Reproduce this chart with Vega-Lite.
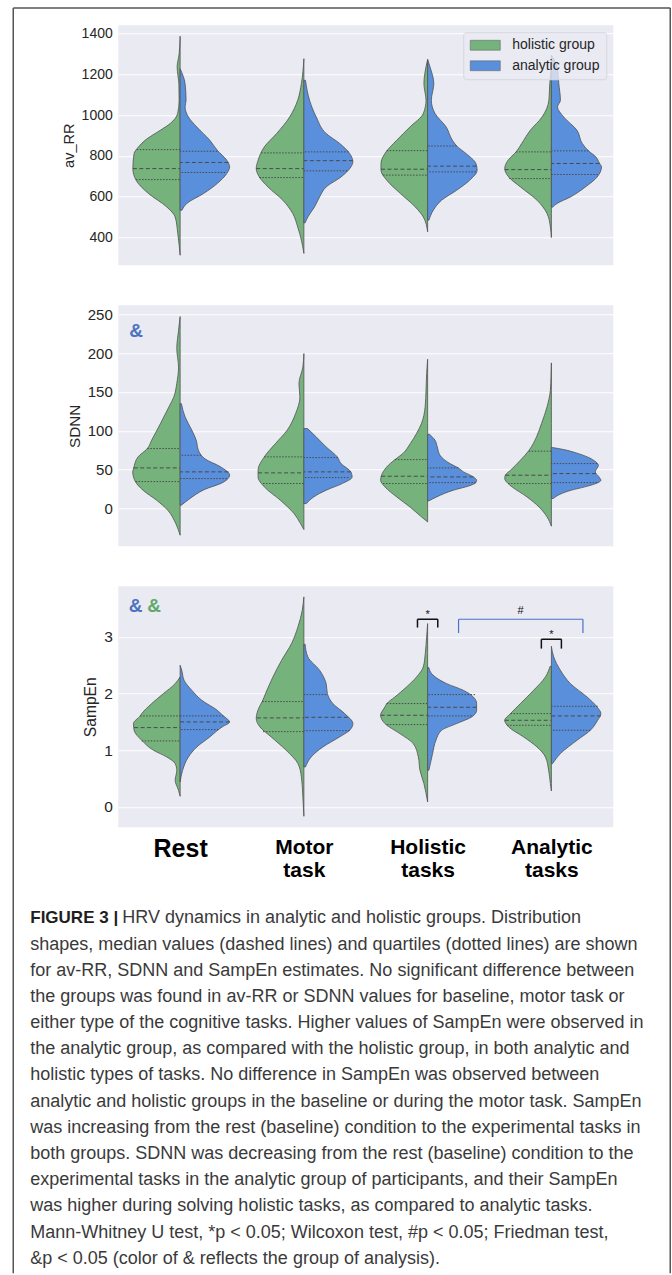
{
"$schema": "https://vega.github.io/schema/vega-lite/v6.json",
"padding": {"left": 12.25, "top": 7.25, "right": 0, "bottom": 0},
"bounds": "flush",
"spacing": 40,
"background": "white",
"config": {
  "font": "Liberation Sans",
  "view": {"stroke": null},
  "axis": {"labelFont": "Liberation Sans", "titleFont": "Liberation Sans", "domain": false, "ticks": false, "labelColor": "#262626", "titleColor": "#262626", "titleFontWeight": "normal", "gridColor": "#ffffff", "gridWidth": 1, "labelPadding": 6, "titlePadding": 5},
  "axisX": {"grid": false},
  "legend": {"labelFont": "Liberation Sans"},
  "text": {"font": "Liberation Sans"}
},
"resolve": {"scale": {"color": "independent", "strokeDash": "independent"}, "legend": {"color": "independent", "strokeDash": "independent"}},
"datasets": {
"violins": [
{"p":"av_RR","t":"Rest","g":"holistic group","v":1387,"w":0},
{"p":"av_RR","t":"Rest","g":"holistic group","v":1300,"w":0.008},
{"p":"av_RR","t":"Rest","g":"holistic group","v":1237,"w":0.024},
{"p":"av_RR","t":"Rest","g":"holistic group","v":1150,"w":0.01},
{"p":"av_RR","t":"Rest","g":"holistic group","v":1073,"w":0.008},
{"p":"av_RR","t":"Rest","g":"holistic group","v":1008,"w":0.02},
{"p":"av_RR","t":"Rest","g":"holistic group","v":959,"w":0.08},
{"p":"av_RR","t":"Rest","g":"holistic group","v":926,"w":0.16},
{"p":"av_RR","t":"Rest","g":"holistic group","v":877,"w":0.283},
{"p":"av_RR","t":"Rest","g":"holistic group","v":844,"w":0.337},
{"p":"av_RR","t":"Rest","g":"holistic group","v":812,"w":0.372},
{"p":"av_RR","t":"Rest","g":"holistic group","v":738,"w":0.382},
{"p":"av_RR","t":"Rest","g":"holistic group","v":681,"w":0.356},
{"p":"av_RR","t":"Rest","g":"holistic group","v":616,"w":0.256},
{"p":"av_RR","t":"Rest","g":"holistic group","v":550,"w":0.108},
{"p":"av_RR","t":"Rest","g":"holistic group","v":501,"w":0.04},
{"p":"av_RR","t":"Rest","g":"holistic group","v":420,"w":0.019},
{"p":"av_RR","t":"Rest","g":"holistic group","v":313,"w":0},
{"p":"av_RR","t":"Rest","g":"analytic group","v":1228,"w":0},
{"p":"av_RR","t":"Rest","g":"analytic group","v":1155,"w":0.04},
{"p":"av_RR","t":"Rest","g":"analytic group","v":1073,"w":0.048},
{"p":"av_RR","t":"Rest","g":"analytic group","v":1041,"w":0.04},
{"p":"av_RR","t":"Rest","g":"analytic group","v":991,"w":0.067},
{"p":"av_RR","t":"Rest","g":"analytic group","v":942,"w":0.135},
{"p":"av_RR","t":"Rest","g":"analytic group","v":877,"w":0.24},
{"p":"av_RR","t":"Rest","g":"analytic group","v":828,"w":0.3},
{"p":"av_RR","t":"Rest","g":"analytic group","v":779,"w":0.377},
{"p":"av_RR","t":"Rest","g":"analytic group","v":746,"w":0.4},
{"p":"av_RR","t":"Rest","g":"analytic group","v":714,"w":0.377},
{"p":"av_RR","t":"Rest","g":"analytic group","v":665,"w":0.3},
{"p":"av_RR","t":"Rest","g":"analytic group","v":616,"w":0.19},
{"p":"av_RR","t":"Rest","g":"analytic group","v":567,"w":0.054},
{"p":"av_RR","t":"Rest","g":"analytic group","v":534,"w":0.015},
{"p":"av_RR","t":"Motor task","g":"holistic group","v":1277,"w":0},
{"p":"av_RR","t":"Motor task","g":"holistic group","v":1155,"w":0.02},
{"p":"av_RR","t":"Motor task","g":"holistic group","v":1073,"w":0.05},
{"p":"av_RR","t":"Motor task","g":"holistic group","v":991,"w":0.115},
{"p":"av_RR","t":"Motor task","g":"holistic group","v":910,"w":0.22},
{"p":"av_RR","t":"Motor task","g":"holistic group","v":844,"w":0.32},
{"p":"av_RR","t":"Motor task","g":"holistic group","v":779,"w":0.37},
{"p":"av_RR","t":"Motor task","g":"holistic group","v":738,"w":0.385},
{"p":"av_RR","t":"Motor task","g":"holistic group","v":697,"w":0.36},
{"p":"av_RR","t":"Motor task","g":"holistic group","v":648,"w":0.29},
{"p":"av_RR","t":"Motor task","g":"holistic group","v":583,"w":0.17},
{"p":"av_RR","t":"Motor task","g":"holistic group","v":518,"w":0.09},
{"p":"av_RR","t":"Motor task","g":"holistic group","v":452,"w":0.05},
{"p":"av_RR","t":"Motor task","g":"holistic group","v":387,"w":0.02},
{"p":"av_RR","t":"Motor task","g":"holistic group","v":322,"w":0},
{"p":"av_RR","t":"Motor task","g":"analytic group","v":1171,"w":0.013},
{"p":"av_RR","t":"Motor task","g":"analytic group","v":1073,"w":0.046},
{"p":"av_RR","t":"Motor task","g":"analytic group","v":991,"w":0.1},
{"p":"av_RR","t":"Motor task","g":"analytic group","v":910,"w":0.18},
{"p":"av_RR","t":"Motor task","g":"analytic group","v":861,"w":0.29},
{"p":"av_RR","t":"Motor task","g":"analytic group","v":812,"w":0.37},
{"p":"av_RR","t":"Motor task","g":"analytic group","v":771,"w":0.396},
{"p":"av_RR","t":"Motor task","g":"analytic group","v":746,"w":0.38},
{"p":"av_RR","t":"Motor task","g":"analytic group","v":697,"w":0.3},
{"p":"av_RR","t":"Motor task","g":"analytic group","v":648,"w":0.18},
{"p":"av_RR","t":"Motor task","g":"analytic group","v":599,"w":0.127},
{"p":"av_RR","t":"Motor task","g":"analytic group","v":550,"w":0.086},
{"p":"av_RR","t":"Motor task","g":"analytic group","v":501,"w":0.032},
{"p":"av_RR","t":"Motor task","g":"analytic group","v":472,"w":0.01},
{"p":"av_RR","t":"Holistic tasks","g":"holistic group","v":1273,"w":0},
{"p":"av_RR","t":"Holistic tasks","g":"holistic group","v":1237,"w":0.013},
{"p":"av_RR","t":"Holistic tasks","g":"holistic group","v":1155,"w":0.03},
{"p":"av_RR","t":"Holistic tasks","g":"holistic group","v":1073,"w":0.013},
{"p":"av_RR","t":"Holistic tasks","g":"holistic group","v":1008,"w":0.035},
{"p":"av_RR","t":"Holistic tasks","g":"holistic group","v":942,"w":0.143},
{"p":"av_RR","t":"Holistic tasks","g":"holistic group","v":877,"w":0.25},
{"p":"av_RR","t":"Holistic tasks","g":"holistic group","v":812,"w":0.345},
{"p":"av_RR","t":"Holistic tasks","g":"holistic group","v":763,"w":0.377},
{"p":"av_RR","t":"Holistic tasks","g":"holistic group","v":730,"w":0.377},
{"p":"av_RR","t":"Holistic tasks","g":"holistic group","v":681,"w":0.33},
{"p":"av_RR","t":"Holistic tasks","g":"holistic group","v":616,"w":0.22},
{"p":"av_RR","t":"Holistic tasks","g":"holistic group","v":550,"w":0.1},
{"p":"av_RR","t":"Holistic tasks","g":"holistic group","v":501,"w":0.035},
{"p":"av_RR","t":"Holistic tasks","g":"holistic group","v":428,"w":0},
{"p":"av_RR","t":"Holistic tasks","g":"analytic group","v":1273,"w":0},
{"p":"av_RR","t":"Holistic tasks","g":"analytic group","v":1237,"w":0.019},
{"p":"av_RR","t":"Holistic tasks","g":"analytic group","v":1155,"w":0.05},
{"p":"av_RR","t":"Holistic tasks","g":"analytic group","v":1073,"w":0.03},
{"p":"av_RR","t":"Holistic tasks","g":"analytic group","v":1008,"w":0.06},
{"p":"av_RR","t":"Holistic tasks","g":"analytic group","v":942,"w":0.15},
{"p":"av_RR","t":"Holistic tasks","g":"analytic group","v":877,"w":0.2},
{"p":"av_RR","t":"Holistic tasks","g":"analytic group","v":849,"w":0.235},
{"p":"av_RR","t":"Holistic tasks","g":"analytic group","v":812,"w":0.31},
{"p":"av_RR","t":"Holistic tasks","g":"analytic group","v":763,"w":0.39},
{"p":"av_RR","t":"Holistic tasks","g":"analytic group","v":730,"w":0.4},
{"p":"av_RR","t":"Holistic tasks","g":"analytic group","v":681,"w":0.34},
{"p":"av_RR","t":"Holistic tasks","g":"analytic group","v":632,"w":0.235},
{"p":"av_RR","t":"Holistic tasks","g":"analytic group","v":583,"w":0.113},
{"p":"av_RR","t":"Holistic tasks","g":"analytic group","v":534,"w":0.046},
{"p":"av_RR","t":"Holistic tasks","g":"analytic group","v":485,"w":0.01},
{"p":"av_RR","t":"Analytic tasks","g":"holistic group","v":1237,"w":0},
{"p":"av_RR","t":"Analytic tasks","g":"holistic group","v":1155,"w":0.013},
{"p":"av_RR","t":"Analytic tasks","g":"holistic group","v":1073,"w":0.02},
{"p":"av_RR","t":"Analytic tasks","g":"holistic group","v":991,"w":0.075},
{"p":"av_RR","t":"Analytic tasks","g":"holistic group","v":926,"w":0.17},
{"p":"av_RR","t":"Analytic tasks","g":"holistic group","v":861,"w":0.24},
{"p":"av_RR","t":"Analytic tasks","g":"holistic group","v":820,"w":0.285},
{"p":"av_RR","t":"Analytic tasks","g":"holistic group","v":779,"w":0.35},
{"p":"av_RR","t":"Analytic tasks","g":"holistic group","v":738,"w":0.377},
{"p":"av_RR","t":"Analytic tasks","g":"holistic group","v":697,"w":0.345},
{"p":"av_RR","t":"Analytic tasks","g":"holistic group","v":648,"w":0.25},
{"p":"av_RR","t":"Analytic tasks","g":"holistic group","v":583,"w":0.116},
{"p":"av_RR","t":"Analytic tasks","g":"holistic group","v":518,"w":0.035},
{"p":"av_RR","t":"Analytic tasks","g":"holistic group","v":452,"w":0.008},
{"p":"av_RR","t":"Analytic tasks","g":"holistic group","v":400,"w":0},
{"p":"av_RR","t":"Analytic tasks","g":"analytic group","v":1294,"w":0},
{"p":"av_RR","t":"Analytic tasks","g":"analytic group","v":1237,"w":0.046},
{"p":"av_RR","t":"Analytic tasks","g":"analytic group","v":1155,"w":0.06},
{"p":"av_RR","t":"Analytic tasks","g":"analytic group","v":1073,"w":0.073},
{"p":"av_RR","t":"Analytic tasks","g":"analytic group","v":1041,"w":0.05},
{"p":"av_RR","t":"Analytic tasks","g":"analytic group","v":991,"w":0.1},
{"p":"av_RR","t":"Analytic tasks","g":"analytic group","v":926,"w":0.207},
{"p":"av_RR","t":"Analytic tasks","g":"analytic group","v":861,"w":0.25},
{"p":"av_RR","t":"Analytic tasks","g":"analytic group","v":825,"w":0.3},
{"p":"av_RR","t":"Analytic tasks","g":"analytic group","v":795,"w":0.36},
{"p":"av_RR","t":"Analytic tasks","g":"analytic group","v":763,"w":0.39},
{"p":"av_RR","t":"Analytic tasks","g":"analytic group","v":746,"w":0.405},
{"p":"av_RR","t":"Analytic tasks","g":"analytic group","v":697,"w":0.37},
{"p":"av_RR","t":"Analytic tasks","g":"analytic group","v":648,"w":0.275},
{"p":"av_RR","t":"Analytic tasks","g":"analytic group","v":599,"w":0.154},
{"p":"av_RR","t":"Analytic tasks","g":"analytic group","v":567,"w":0.046},
{"p":"av_RR","t":"Analytic tasks","g":"analytic group","v":549,"w":0.01},
{"p":"SDNN","t":"Rest","g":"holistic group","v":247,"w":0},
{"p":"SDNN","t":"Rest","g":"holistic group","v":229,"w":0.013},
{"p":"SDNN","t":"Rest","g":"holistic group","v":206,"w":0.027},
{"p":"SDNN","t":"Rest","g":"holistic group","v":182,"w":0.013},
{"p":"SDNN","t":"Rest","g":"holistic group","v":161,"w":0.027},
{"p":"SDNN","t":"Rest","g":"holistic group","v":144,"w":0.05},
{"p":"SDNN","t":"Rest","g":"holistic group","v":131,"w":0.09},
{"p":"SDNN","t":"Rest","g":"holistic group","v":109,"w":0.16},
{"p":"SDNN","t":"Rest","g":"holistic group","v":88,"w":0.23},
{"p":"SDNN","t":"Rest","g":"holistic group","v":77.2,"w":0.265},
{"p":"SDNN","t":"Rest","g":"holistic group","v":66.5,"w":0.34},
{"p":"SDNN","t":"Rest","g":"holistic group","v":52.3,"w":0.375},
{"p":"SDNN","t":"Rest","g":"holistic group","v":47.2,"w":0.383},
{"p":"SDNN","t":"Rest","g":"holistic group","v":34.3,"w":0.36},
{"p":"SDNN","t":"Rest","g":"holistic group","v":23.6,"w":0.3},
{"p":"SDNN","t":"Rest","g":"holistic group","v":10.7,"w":0.19},
{"p":"SDNN","t":"Rest","g":"holistic group","v":-2.1,"w":0.1},
{"p":"SDNN","t":"Rest","g":"holistic group","v":-19.3,"w":0.035},
{"p":"SDNN","t":"Rest","g":"holistic group","v":-34.3,"w":0},
{"p":"SDNN","t":"Rest","g":"analytic group","v":135,"w":0.01},
{"p":"SDNN","t":"Rest","g":"analytic group","v":118,"w":0.04},
{"p":"SDNN","t":"Rest","g":"analytic group","v":101,"w":0.094},
{"p":"SDNN","t":"Rest","g":"analytic group","v":88,"w":0.13},
{"p":"SDNN","t":"Rest","g":"analytic group","v":75,"w":0.148},
{"p":"SDNN","t":"Rest","g":"analytic group","v":68.6,"w":0.17},
{"p":"SDNN","t":"Rest","g":"analytic group","v":64,"w":0.2},
{"p":"SDNN","t":"Rest","g":"analytic group","v":54,"w":0.323},
{"p":"SDNN","t":"Rest","g":"analytic group","v":43,"w":0.4},
{"p":"SDNN","t":"Rest","g":"analytic group","v":34,"w":0.35},
{"p":"SDNN","t":"Rest","g":"analytic group","v":24,"w":0.19},
{"p":"SDNN","t":"Rest","g":"analytic group","v":13,"w":0.08},
{"p":"SDNN","t":"Rest","g":"analytic group","v":4.3,"w":0.01},
{"p":"SDNN","t":"Motor task","g":"holistic group","v":199.4,"w":0},
{"p":"SDNN","t":"Motor task","g":"holistic group","v":182.2,"w":0.008},
{"p":"SDNN","t":"Motor task","g":"holistic group","v":160.8,"w":0.04},
{"p":"SDNN","t":"Motor task","g":"holistic group","v":143.6,"w":0.032},
{"p":"SDNN","t":"Motor task","g":"holistic group","v":122.2,"w":0.067},
{"p":"SDNN","t":"Motor task","g":"holistic group","v":100.8,"w":0.135},
{"p":"SDNN","t":"Motor task","g":"holistic group","v":83.6,"w":0.23},
{"p":"SDNN","t":"Motor task","g":"holistic group","v":66.5,"w":0.32},
{"p":"SDNN","t":"Motor task","g":"holistic group","v":49.3,"w":0.37},
{"p":"SDNN","t":"Motor task","g":"holistic group","v":40.7,"w":0.37},
{"p":"SDNN","t":"Motor task","g":"holistic group","v":27.9,"w":0.32},
{"p":"SDNN","t":"Motor task","g":"holistic group","v":10.7,"w":0.19},
{"p":"SDNN","t":"Motor task","g":"holistic group","v":-6.4,"w":0.08},
{"p":"SDNN","t":"Motor task","g":"holistic group","v":-19.3,"w":0.027},
{"p":"SDNN","t":"Motor task","g":"holistic group","v":-27,"w":0},
{"p":"SDNN","t":"Motor task","g":"analytic group","v":102.9,"w":0.03},
{"p":"SDNN","t":"Motor task","g":"analytic group","v":92.2,"w":0.1},
{"p":"SDNN","t":"Motor task","g":"analytic group","v":79.3,"w":0.18},
{"p":"SDNN","t":"Motor task","g":"analytic group","v":66.5,"w":0.27},
{"p":"SDNN","t":"Motor task","g":"analytic group","v":57.9,"w":0.3},
{"p":"SDNN","t":"Motor task","g":"analytic group","v":47.2,"w":0.38},
{"p":"SDNN","t":"Motor task","g":"analytic group","v":40.7,"w":0.39},
{"p":"SDNN","t":"Motor task","g":"analytic group","v":32.2,"w":0.31},
{"p":"SDNN","t":"Motor task","g":"analytic group","v":23.6,"w":0.18},
{"p":"SDNN","t":"Motor task","g":"analytic group","v":15,"w":0.08},
{"p":"SDNN","t":"Motor task","g":"analytic group","v":6.4,"w":0.02},
{"p":"SDNN","t":"Holistic tasks","g":"holistic group","v":192.1,"w":0},
{"p":"SDNN","t":"Holistic tasks","g":"holistic group","v":173.7,"w":0.008},
{"p":"SDNN","t":"Holistic tasks","g":"holistic group","v":152.2,"w":0.013},
{"p":"SDNN","t":"Holistic tasks","g":"holistic group","v":130.8,"w":0.02},
{"p":"SDNN","t":"Holistic tasks","g":"holistic group","v":109.3,"w":0.05},
{"p":"SDNN","t":"Holistic tasks","g":"holistic group","v":96.5,"w":0.09},
{"p":"SDNN","t":"Holistic tasks","g":"holistic group","v":83.6,"w":0.14},
{"p":"SDNN","t":"Holistic tasks","g":"holistic group","v":70.8,"w":0.2},
{"p":"SDNN","t":"Holistic tasks","g":"holistic group","v":63,"w":0.264},
{"p":"SDNN","t":"Holistic tasks","g":"holistic group","v":53.6,"w":0.33},
{"p":"SDNN","t":"Holistic tasks","g":"holistic group","v":41.6,"w":0.375},
{"p":"SDNN","t":"Holistic tasks","g":"holistic group","v":36.4,"w":0.38},
{"p":"SDNN","t":"Holistic tasks","g":"holistic group","v":27.9,"w":0.345},
{"p":"SDNN","t":"Holistic tasks","g":"holistic group","v":15,"w":0.25},
{"p":"SDNN","t":"Holistic tasks","g":"holistic group","v":2.1,"w":0.143},
{"p":"SDNN","t":"Holistic tasks","g":"holistic group","v":-10.7,"w":0.05},
{"p":"SDNN","t":"Holistic tasks","g":"holistic group","v":-17.2,"w":0},
{"p":"SDNN","t":"Holistic tasks","g":"analytic group","v":95.6,"w":0.015},
{"p":"SDNN","t":"Holistic tasks","g":"analytic group","v":87.9,"w":0.06},
{"p":"SDNN","t":"Holistic tasks","g":"analytic group","v":79.3,"w":0.078},
{"p":"SDNN","t":"Holistic tasks","g":"analytic group","v":68.6,"w":0.1},
{"p":"SDNN","t":"Holistic tasks","g":"analytic group","v":57.9,"w":0.18},
{"p":"SDNN","t":"Holistic tasks","g":"analytic group","v":52.3,"w":0.248},
{"p":"SDNN","t":"Holistic tasks","g":"analytic group","v":47.2,"w":0.29},
{"p":"SDNN","t":"Holistic tasks","g":"analytic group","v":40.7,"w":0.37},
{"p":"SDNN","t":"Holistic tasks","g":"analytic group","v":36.4,"w":0.396},
{"p":"SDNN","t":"Holistic tasks","g":"analytic group","v":33.4,"w":0.39},
{"p":"SDNN","t":"Holistic tasks","g":"analytic group","v":30,"w":0.35},
{"p":"SDNN","t":"Holistic tasks","g":"analytic group","v":23.6,"w":0.208},
{"p":"SDNN","t":"Holistic tasks","g":"analytic group","v":15,"w":0.073},
{"p":"SDNN","t":"Holistic tasks","g":"analytic group","v":9.9,"w":0.01},
{"p":"SDNN","t":"Analytic tasks","g":"holistic group","v":187.4,"w":0},
{"p":"SDNN","t":"Analytic tasks","g":"holistic group","v":169.4,"w":0.003},
{"p":"SDNN","t":"Analytic tasks","g":"holistic group","v":152.2,"w":0.008},
{"p":"SDNN","t":"Analytic tasks","g":"holistic group","v":130.8,"w":0.035},
{"p":"SDNN","t":"Analytic tasks","g":"holistic group","v":109.3,"w":0.08},
{"p":"SDNN","t":"Analytic tasks","g":"holistic group","v":92.2,"w":0.12},
{"p":"SDNN","t":"Analytic tasks","g":"holistic group","v":75,"w":0.18},
{"p":"SDNN","t":"Analytic tasks","g":"holistic group","v":62.2,"w":0.25},
{"p":"SDNN","t":"Analytic tasks","g":"holistic group","v":49.3,"w":0.33},
{"p":"SDNN","t":"Analytic tasks","g":"holistic group","v":42.9,"w":0.372},
{"p":"SDNN","t":"Analytic tasks","g":"holistic group","v":38.6,"w":0.377},
{"p":"SDNN","t":"Analytic tasks","g":"holistic group","v":32.2,"w":0.35},
{"p":"SDNN","t":"Analytic tasks","g":"holistic group","v":27.9,"w":0.318},
{"p":"SDNN","t":"Analytic tasks","g":"holistic group","v":15,"w":0.197},
{"p":"SDNN","t":"Analytic tasks","g":"holistic group","v":2.1,"w":0.1},
{"p":"SDNN","t":"Analytic tasks","g":"holistic group","v":-10.7,"w":0.035},
{"p":"SDNN","t":"Analytic tasks","g":"holistic group","v":-22.7,"w":0},
{"p":"SDNN","t":"Analytic tasks","g":"analytic group","v":78.5,"w":0.01},
{"p":"SDNN","t":"Analytic tasks","g":"analytic group","v":75.9,"w":0.1},
{"p":"SDNN","t":"Analytic tasks","g":"analytic group","v":71.6,"w":0.2},
{"p":"SDNN","t":"Analytic tasks","g":"analytic group","v":66.5,"w":0.29},
{"p":"SDNN","t":"Analytic tasks","g":"analytic group","v":60,"w":0.36},
{"p":"SDNN","t":"Analytic tasks","g":"analytic group","v":55.7,"w":0.38},
{"p":"SDNN","t":"Analytic tasks","g":"analytic group","v":47.2,"w":0.355},
{"p":"SDNN","t":"Analytic tasks","g":"analytic group","v":40.7,"w":0.385},
{"p":"SDNN","t":"Analytic tasks","g":"analytic group","v":36.4,"w":0.4},
{"p":"SDNN","t":"Analytic tasks","g":"analytic group","v":32.2,"w":0.36},
{"p":"SDNN","t":"Analytic tasks","g":"analytic group","v":27.9,"w":0.27},
{"p":"SDNN","t":"Analytic tasks","g":"analytic group","v":23.6,"w":0.16},
{"p":"SDNN","t":"Analytic tasks","g":"analytic group","v":18.4,"w":0.07},
{"p":"SDNN","t":"Analytic tasks","g":"analytic group","v":12.9,"w":0.015},
{"p":"SampEn","t":"Rest","g":"holistic group","v":2.294,"w":0},
{"p":"SampEn","t":"Rest","g":"holistic group","v":2.176,"w":0.04},
{"p":"SampEn","t":"Rest","g":"holistic group","v":2,"w":0.135},
{"p":"SampEn","t":"Rest","g":"holistic group","v":1.824,"w":0.23},
{"p":"SampEn","t":"Rest","g":"holistic group","v":1.647,"w":0.31},
{"p":"SampEn","t":"Rest","g":"holistic group","v":1.606,"w":0.323},
{"p":"SampEn","t":"Rest","g":"holistic group","v":1.471,"w":0.377},
{"p":"SampEn","t":"Rest","g":"holistic group","v":1.353,"w":0.372},
{"p":"SampEn","t":"Rest","g":"holistic group","v":1.176,"w":0.31},
{"p":"SampEn","t":"Rest","g":"holistic group","v":1,"w":0.215},
{"p":"SampEn","t":"Rest","g":"holistic group","v":0.882,"w":0.108},
{"p":"SampEn","t":"Rest","g":"holistic group","v":0.765,"w":0.04},
{"p":"SampEn","t":"Rest","g":"holistic group","v":0.647,"w":0.027},
{"p":"SampEn","t":"Rest","g":"holistic group","v":0.471,"w":0.04},
{"p":"SampEn","t":"Rest","g":"holistic group","v":0.294,"w":0.013},
{"p":"SampEn","t":"Rest","g":"holistic group","v":0.188,"w":0},
{"p":"SampEn","t":"Rest","g":"analytic group","v":2.5,"w":0},
{"p":"SampEn","t":"Rest","g":"analytic group","v":2.412,"w":0.013},
{"p":"SampEn","t":"Rest","g":"analytic group","v":2.235,"w":0.032},
{"p":"SampEn","t":"Rest","g":"analytic group","v":2.059,"w":0.094},
{"p":"SampEn","t":"Rest","g":"analytic group","v":1.882,"w":0.175},
{"p":"SampEn","t":"Rest","g":"analytic group","v":1.706,"w":0.3},
{"p":"SampEn","t":"Rest","g":"analytic group","v":1.606,"w":0.35},
{"p":"SampEn","t":"Rest","g":"analytic group","v":1.559,"w":0.377},
{"p":"SampEn","t":"Rest","g":"analytic group","v":1.5,"w":0.4},
{"p":"SampEn","t":"Rest","g":"analytic group","v":1.412,"w":0.34},
{"p":"SampEn","t":"Rest","g":"analytic group","v":1.365,"w":0.31},
{"p":"SampEn","t":"Rest","g":"analytic group","v":1.235,"w":0.24},
{"p":"SampEn","t":"Rest","g":"analytic group","v":1.059,"w":0.135},
{"p":"SampEn","t":"Rest","g":"analytic group","v":0.882,"w":0.067},
{"p":"SampEn","t":"Rest","g":"analytic group","v":0.647,"w":0.02},
{"p":"SampEn","t":"Rest","g":"analytic group","v":0.441,"w":0},
{"p":"SampEn","t":"Motor task","g":"holistic group","v":3.706,"w":0},
{"p":"SampEn","t":"Motor task","g":"holistic group","v":3.471,"w":0.013},
{"p":"SampEn","t":"Motor task","g":"holistic group","v":3.176,"w":0.048},
{"p":"SampEn","t":"Motor task","g":"holistic group","v":2.882,"w":0.1},
{"p":"SampEn","t":"Motor task","g":"holistic group","v":2.588,"w":0.18},
{"p":"SampEn","t":"Motor task","g":"holistic group","v":2.294,"w":0.25},
{"p":"SampEn","t":"Motor task","g":"holistic group","v":2,"w":0.31},
{"p":"SampEn","t":"Motor task","g":"holistic group","v":1.859,"w":0.337},
{"p":"SampEn","t":"Motor task","g":"holistic group","v":1.765,"w":0.36},
{"p":"SampEn","t":"Motor task","g":"holistic group","v":1.559,"w":0.385},
{"p":"SampEn","t":"Motor task","g":"holistic group","v":1.412,"w":0.355},
{"p":"SampEn","t":"Motor task","g":"holistic group","v":1.235,"w":0.264},
{"p":"SampEn","t":"Motor task","g":"holistic group","v":1,"w":0.143},
{"p":"SampEn","t":"Motor task","g":"holistic group","v":0.765,"w":0.048},
{"p":"SampEn","t":"Motor task","g":"holistic group","v":0.529,"w":0.02},
{"p":"SampEn","t":"Motor task","g":"holistic group","v":0.176,"w":0.008},
{"p":"SampEn","t":"Motor task","g":"holistic group","v":-0.165,"w":0},
{"p":"SampEn","t":"Motor task","g":"analytic group","v":2.871,"w":0.01},
{"p":"SampEn","t":"Motor task","g":"analytic group","v":2.647,"w":0.032},
{"p":"SampEn","t":"Motor task","g":"analytic group","v":2.412,"w":0.127},
{"p":"SampEn","t":"Motor task","g":"analytic group","v":2.176,"w":0.18},
{"p":"SampEn","t":"Motor task","g":"analytic group","v":2,"w":0.19},
{"p":"SampEn","t":"Motor task","g":"analytic group","v":1.824,"w":0.234},
{"p":"SampEn","t":"Motor task","g":"analytic group","v":1.647,"w":0.33},
{"p":"SampEn","t":"Motor task","g":"analytic group","v":1.471,"w":0.396},
{"p":"SampEn","t":"Motor task","g":"analytic group","v":1.353,"w":0.37},
{"p":"SampEn","t":"Motor task","g":"analytic group","v":1.235,"w":0.288},
{"p":"SampEn","t":"Motor task","g":"analytic group","v":1.059,"w":0.154},
{"p":"SampEn","t":"Motor task","g":"analytic group","v":0.882,"w":0.059},
{"p":"SampEn","t":"Motor task","g":"analytic group","v":0.706,"w":0.013},
{"p":"SampEn","t":"Holistic tasks","g":"holistic group","v":3.235,"w":0},
{"p":"SampEn","t":"Holistic tasks","g":"holistic group","v":3,"w":0.008},
{"p":"SampEn","t":"Holistic tasks","g":"holistic group","v":2.706,"w":0.019},
{"p":"SampEn","t":"Holistic tasks","g":"holistic group","v":2.471,"w":0.035},
{"p":"SampEn","t":"Holistic tasks","g":"holistic group","v":2.294,"w":0.089},
{"p":"SampEn","t":"Holistic tasks","g":"holistic group","v":2.118,"w":0.17},
{"p":"SampEn","t":"Holistic tasks","g":"holistic group","v":1.941,"w":0.264},
{"p":"SampEn","t":"Holistic tasks","g":"holistic group","v":1.824,"w":0.33},
{"p":"SampEn","t":"Holistic tasks","g":"holistic group","v":1.765,"w":0.345},
{"p":"SampEn","t":"Holistic tasks","g":"holistic group","v":1.618,"w":0.38},
{"p":"SampEn","t":"Holistic tasks","g":"holistic group","v":1.471,"w":0.345},
{"p":"SampEn","t":"Holistic tasks","g":"holistic group","v":1.294,"w":0.224},
{"p":"SampEn","t":"Holistic tasks","g":"holistic group","v":1.118,"w":0.116},
{"p":"SampEn","t":"Holistic tasks","g":"holistic group","v":0.882,"w":0.075},
{"p":"SampEn","t":"Holistic tasks","g":"holistic group","v":0.647,"w":0.062},
{"p":"SampEn","t":"Holistic tasks","g":"holistic group","v":0.412,"w":0.03},
{"p":"SampEn","t":"Holistic tasks","g":"holistic group","v":0.088,"w":0},
{"p":"SampEn","t":"Holistic tasks","g":"analytic group","v":2.459,"w":0.01},
{"p":"SampEn","t":"Holistic tasks","g":"analytic group","v":2.353,"w":0.032},
{"p":"SampEn","t":"Holistic tasks","g":"analytic group","v":2.176,"w":0.154},
{"p":"SampEn","t":"Holistic tasks","g":"analytic group","v":2.059,"w":0.288},
{"p":"SampEn","t":"Holistic tasks","g":"analytic group","v":1.941,"w":0.369},
{"p":"SampEn","t":"Holistic tasks","g":"analytic group","v":1.824,"w":0.396},
{"p":"SampEn","t":"Holistic tasks","g":"analytic group","v":1.706,"w":0.396},
{"p":"SampEn","t":"Holistic tasks","g":"analytic group","v":1.588,"w":0.356},
{"p":"SampEn","t":"Holistic tasks","g":"analytic group","v":1.471,"w":0.234},
{"p":"SampEn","t":"Holistic tasks","g":"analytic group","v":1.353,"w":0.113},
{"p":"SampEn","t":"Holistic tasks","g":"analytic group","v":1.176,"w":0.067},
{"p":"SampEn","t":"Holistic tasks","g":"analytic group","v":0.941,"w":0.04},
{"p":"SampEn","t":"Holistic tasks","g":"analytic group","v":0.647,"w":0.01},
{"p":"SampEn","t":"Analytic tasks","g":"holistic group","v":2.482,"w":0.01},
{"p":"SampEn","t":"Analytic tasks","g":"holistic group","v":2.294,"w":0.048},
{"p":"SampEn","t":"Analytic tasks","g":"holistic group","v":2.059,"w":0.143},
{"p":"SampEn","t":"Analytic tasks","g":"holistic group","v":1.824,"w":0.25},
{"p":"SampEn","t":"Analytic tasks","g":"holistic group","v":1.647,"w":0.33},
{"p":"SampEn","t":"Analytic tasks","g":"holistic group","v":1.529,"w":0.377},
{"p":"SampEn","t":"Analytic tasks","g":"holistic group","v":1.412,"w":0.345},
{"p":"SampEn","t":"Analytic tasks","g":"holistic group","v":1.235,"w":0.224},
{"p":"SampEn","t":"Analytic tasks","g":"holistic group","v":1.059,"w":0.116},
{"p":"SampEn","t":"Analytic tasks","g":"holistic group","v":0.882,"w":0.048},
{"p":"SampEn","t":"Analytic tasks","g":"holistic group","v":0.647,"w":0.022},
{"p":"SampEn","t":"Analytic tasks","g":"holistic group","v":0.412,"w":0.008},
{"p":"SampEn","t":"Analytic tasks","g":"holistic group","v":0.282,"w":0},
{"p":"SampEn","t":"Analytic tasks","g":"analytic group","v":2.835,"w":0},
{"p":"SampEn","t":"Analytic tasks","g":"analytic group","v":2.647,"w":0.019},
{"p":"SampEn","t":"Analytic tasks","g":"analytic group","v":2.412,"w":0.073},
{"p":"SampEn","t":"Analytic tasks","g":"analytic group","v":2.176,"w":0.154},
{"p":"SampEn","t":"Analytic tasks","g":"analytic group","v":1.941,"w":0.288},
{"p":"SampEn","t":"Analytic tasks","g":"analytic group","v":1.765,"w":0.369},
{"p":"SampEn","t":"Analytic tasks","g":"analytic group","v":1.647,"w":0.4},
{"p":"SampEn","t":"Analytic tasks","g":"analytic group","v":1.529,"w":0.374},
{"p":"SampEn","t":"Analytic tasks","g":"analytic group","v":1.353,"w":0.315},
{"p":"SampEn","t":"Analytic tasks","g":"analytic group","v":1.176,"w":0.207},
{"p":"SampEn","t":"Analytic tasks","g":"analytic group","v":0.941,"w":0.073},
{"p":"SampEn","t":"Analytic tasks","g":"analytic group","v":0.765,"w":0.01}
],
"quartiles": [
{"p":"av_RR","t":"Rest","g":"holistic group","k":"quartile","v":831,"w":0.35},
{"p":"av_RR","t":"Rest","g":"holistic group","k":"median","v":738,"w":0.382},
{"p":"av_RR","t":"Rest","g":"holistic group","k":"quartile","v":684,"w":0.356},
{"p":"av_RR","t":"Rest","g":"analytic group","k":"quartile","v":823,"w":0.3},
{"p":"av_RR","t":"Rest","g":"analytic group","k":"median","v":768,"w":0.39},
{"p":"av_RR","t":"Rest","g":"analytic group","k":"quartile","v":719,"w":0.364},
{"p":"av_RR","t":"Motor task","g":"holistic group","k":"quartile","v":815,"w":0.345},
{"p":"av_RR","t":"Motor task","g":"holistic group","k":"median","v":738,"w":0.385},
{"p":"av_RR","t":"Motor task","g":"holistic group","k":"quartile","v":694,"w":0.36},
{"p":"av_RR","t":"Motor task","g":"analytic group","k":"quartile","v":820,"w":0.36},
{"p":"av_RR","t":"Motor task","g":"analytic group","k":"median","v":777,"w":0.396},
{"p":"av_RR","t":"Motor task","g":"analytic group","k":"quartile","v":727,"w":0.35},
{"p":"av_RR","t":"Holistic tasks","g":"holistic group","k":"quartile","v":826,"w":0.33},
{"p":"av_RR","t":"Holistic tasks","g":"holistic group","k":"median","v":735,"w":0.377},
{"p":"av_RR","t":"Holistic tasks","g":"holistic group","k":"quartile","v":706,"w":0.36},
{"p":"av_RR","t":"Holistic tasks","g":"analytic group","k":"quartile","v":849,"w":0.235},
{"p":"av_RR","t":"Holistic tasks","g":"analytic group","k":"median","v":750,"w":0.395},
{"p":"av_RR","t":"Holistic tasks","g":"analytic group","k":"quartile","v":722,"w":0.39},
{"p":"av_RR","t":"Analytic tasks","g":"holistic group","k":"quartile","v":820,"w":0.285},
{"p":"av_RR","t":"Analytic tasks","g":"holistic group","k":"median","v":733,"w":0.377},
{"p":"av_RR","t":"Analytic tasks","g":"holistic group","k":"quartile","v":689,"w":0.34},
{"p":"av_RR","t":"Analytic tasks","g":"analytic group","k":"quartile","v":825,"w":0.3},
{"p":"av_RR","t":"Analytic tasks","g":"analytic group","k":"median","v":763,"w":0.39},
{"p":"av_RR","t":"Analytic tasks","g":"analytic group","k":"quartile","v":709,"w":0.374},
{"p":"SDNN","t":"Rest","g":"holistic group","k":"quartile","v":77.2,"w":0.265},
{"p":"SDNN","t":"Rest","g":"holistic group","k":"median","v":52.3,"w":0.375},
{"p":"SDNN","t":"Rest","g":"holistic group","k":"quartile","v":34.7,"w":0.36},
{"p":"SDNN","t":"Rest","g":"analytic group","k":"quartile","v":68.6,"w":0.17},
{"p":"SDNN","t":"Rest","g":"analytic group","k":"median","v":47.2,"w":0.39},
{"p":"SDNN","t":"Rest","g":"analytic group","k":"quartile","v":38.6,"w":0.377},
{"p":"SDNN","t":"Motor task","g":"holistic group","k":"quartile","v":66.5,"w":0.32},
{"p":"SDNN","t":"Motor task","g":"holistic group","k":"median","v":45.9,"w":0.37},
{"p":"SDNN","t":"Motor task","g":"holistic group","k":"quartile","v":32.2,"w":0.33},
{"p":"SDNN","t":"Motor task","g":"analytic group","k":"quartile","v":65.6,"w":0.275},
{"p":"SDNN","t":"Motor task","g":"analytic group","k":"median","v":47.2,"w":0.38},
{"p":"SDNN","t":"Motor task","g":"analytic group","k":"quartile","v":39.9,"w":0.36},
{"p":"SDNN","t":"Holistic tasks","g":"holistic group","k":"quartile","v":63,"w":0.264},
{"p":"SDNN","t":"Holistic tasks","g":"holistic group","k":"median","v":41.6,"w":0.375},
{"p":"SDNN","t":"Holistic tasks","g":"holistic group","k":"quartile","v":32.2,"w":0.36},
{"p":"SDNN","t":"Holistic tasks","g":"analytic group","k":"quartile","v":52.3,"w":0.248},
{"p":"SDNN","t":"Holistic tasks","g":"analytic group","k":"median","v":40.7,"w":0.37},
{"p":"SDNN","t":"Holistic tasks","g":"analytic group","k":"quartile","v":33.4,"w":0.39},
{"p":"SDNN","t":"Analytic tasks","g":"holistic group","k":"quartile","v":73.8,"w":0.183},
{"p":"SDNN","t":"Analytic tasks","g":"holistic group","k":"median","v":42.9,"w":0.372},
{"p":"SDNN","t":"Analytic tasks","g":"holistic group","k":"quartile","v":32.2,"w":0.35},
{"p":"SDNN","t":"Analytic tasks","g":"analytic group","k":"quartile","v":57.9,"w":0.37},
{"p":"SDNN","t":"Analytic tasks","g":"analytic group","k":"median","v":45,"w":0.36},
{"p":"SDNN","t":"Analytic tasks","g":"analytic group","k":"quartile","v":33.4,"w":0.37},
{"p":"SampEn","t":"Rest","g":"holistic group","k":"quartile","v":1.606,"w":0.323},
{"p":"SampEn","t":"Rest","g":"holistic group","k":"median","v":1.4,"w":0.372},
{"p":"SampEn","t":"Rest","g":"holistic group","k":"quartile","v":1.165,"w":0.31},
{"p":"SampEn","t":"Rest","g":"analytic group","k":"quartile","v":1.606,"w":0.35},
{"p":"SampEn","t":"Rest","g":"analytic group","k":"median","v":1.5,"w":0.4},
{"p":"SampEn","t":"Rest","g":"analytic group","k":"quartile","v":1.365,"w":0.31},
{"p":"SampEn","t":"Motor task","g":"holistic group","k":"quartile","v":1.859,"w":0.337},
{"p":"SampEn","t":"Motor task","g":"holistic group","k":"median","v":1.571,"w":0.38},
{"p":"SampEn","t":"Motor task","g":"holistic group","k":"quartile","v":1.329,"w":0.33},
{"p":"SampEn","t":"Motor task","g":"analytic group","k":"quartile","v":1.982,"w":0.18},
{"p":"SampEn","t":"Motor task","g":"analytic group","k":"median","v":1.582,"w":0.356},
{"p":"SampEn","t":"Motor task","g":"analytic group","k":"quartile","v":1.347,"w":0.37},
{"p":"SampEn","t":"Holistic tasks","g":"holistic group","k":"quartile","v":1.824,"w":0.33},
{"p":"SampEn","t":"Holistic tasks","g":"holistic group","k":"median","v":1.618,"w":0.38},
{"p":"SampEn","t":"Holistic tasks","g":"holistic group","k":"quartile","v":1.453,"w":0.33},
{"p":"SampEn","t":"Holistic tasks","g":"analytic group","k":"quartile","v":1.982,"w":0.383},
{"p":"SampEn","t":"Holistic tasks","g":"analytic group","k":"median","v":1.759,"w":0.396},
{"p":"SampEn","t":"Holistic tasks","g":"analytic group","k":"quartile","v":1.606,"w":0.356},
{"p":"SampEn","t":"Analytic tasks","g":"holistic group","k":"quartile","v":1.647,"w":0.33},
{"p":"SampEn","t":"Analytic tasks","g":"holistic group","k":"median","v":1.529,"w":0.377},
{"p":"SampEn","t":"Analytic tasks","g":"holistic group","k":"quartile","v":1.441,"w":0.358},
{"p":"SampEn","t":"Analytic tasks","g":"analytic group","k":"quartile","v":1.776,"w":0.374},
{"p":"SampEn","t":"Analytic tasks","g":"analytic group","k":"median","v":1.606,"w":0.4},
{"p":"SampEn","t":"Analytic tasks","g":"analytic group","k":"quartile","v":1.353,"w":0.315}
],
"brackets": [
{"test":"Mann-Whitney","x":1.918,"x2":2.082,"y":3.312,"y2":3.312},
{"test":"Mann-Whitney","x":1.918,"x2":1.918,"y":3.312,"y2":3.165},
{"test":"Mann-Whitney","x":2.082,"x2":2.082,"y":3.312,"y2":3.165},
{"test":"Wilcoxon","x":2.25,"x2":3.255,"y":3.312,"y2":3.312},
{"test":"Wilcoxon","x":2.25,"x2":2.25,"y":3.312,"y2":3.07},
{"test":"Wilcoxon","x":3.255,"x2":3.255,"y":3.312,"y2":3.07},
{"test":"Mann-Whitney","x":2.919,"x2":3.081,"y":2.959,"y2":2.959},
{"test":"Mann-Whitney","x":2.919,"x2":2.919,"y":2.959,"y2":2.794},
{"test":"Mann-Whitney","x":3.081,"x2":3.081,"y":2.959,"y2":2.794}
],
"marks": [
{"x":2,"y":3.33,"label":"*"},
{"x":3,"y":2.975,"label":"*"},
{"x":2.75,"y":3.4,"label":"#"}
],
"amps": [
{"p":"SDNN","g":"analytic group","x":-0.355,"y":220.7,"label":"&"},
{"p":"SampEn","g":"analytic group","x":-0.359,"y":3.44,"label":"&"},
{"p":"SampEn","g":"holistic group","x":-0.211,"y":3.44,"label":"&"}
],
"caption": [
{"line":1,"part":"label","text":"FIGURE 3 |"},
{"line":1,"part":"body","text":"HRV dynamics in analytic and holistic groups. Distribution"},
{"line":2,"part":"body","text":"shapes, median values (dashed lines) and quartiles (dotted lines) are shown"},
{"line":3,"part":"body","text":"for av-RR, SDNN and SampEn estimates. No significant difference between"},
{"line":4,"part":"body","text":"the groups was found in av-RR or SDNN values for baseline, motor task or"},
{"line":5,"part":"body","text":"either type of the cognitive tasks. Higher values of SampEn were observed in"},
{"line":6,"part":"body","text":"the analytic group, as compared with the holistic group, in both analytic and"},
{"line":7,"part":"body","text":"holistic types of tasks. No difference in SampEn was observed between"},
{"line":8,"part":"body","text":"analytic and holistic groups in the baseline or during the motor task. SampEn"},
{"line":9,"part":"body","text":"was increasing from the rest (baseline) condition to the experimental tasks in"},
{"line":10,"part":"body","text":"both groups. SDNN was decreasing from the rest (baseline) condition to the"},
{"line":11,"part":"body","text":"experimental tasks in the analytic group of participants, and their SampEn"},
{"line":12,"part":"body","text":"was higher during solving holistic tasks, as compared to analytic tasks."},
{"line":13,"part":"body","text":"Mann-Whitney U test, *p < 0.05; Wilcoxon test, #p < 0.05; Friedman test,"},
{"line":14,"part":"body","text":"&p < 0.05 (color of & reflects the group of analysis)."}
]
},
"vconcat": [
{
 "width": 495, "height": 240,
 "view": {"fill": "#EAEAF2", "stroke": null},
 "layer": [
  {
   "data": {"name": "violins"},
   "transform": [
    {"filter": "datum.p == 'av_RR'"},
    {"calculate": "indexof(['Rest','Motor task','Holistic tasks','Analytic tasks'], datum.t)", "as": "pos"},
    {"calculate": "datum.pos + (datum.g == 'holistic group' ? -datum.w : datum.w)", "as": "xs"}
   ],
   "mark": {"type": "area", "orient": "horizontal", "interpolate": "monotone", "stroke": "#505050", "strokeWidth": 0.8, "fillOpacity": 1},
   "encoding": {
    "y": {"field": "v", "type": "quantitative", "scale": {"domain": [264, 1441], "nice": false, "zero": false}, "axis": {"values": [400, 600, 800, 1000, 1200, 1400], "format": "d", "title": "av_RR", "labelFontSize": 14, "titleFontSize": 14.5}},
    "x": {"field": "xs", "type": "quantitative", "stack": null, "scale": {"domain": [-0.5, 3.5], "nice": false, "zero": false}, "axis": null},
    "x2": {"field": "pos"},
    "color": {"field": "g", "type": "nominal", "scale": {"domain": ["holistic group", "analytic group"], "range": ["#76b27c", "#5a8fdc"]},
     "legend": {"title": null, "orient": "top-right", "offset": 7, "symbolType": "M-2.73,-0.9H2.73V0.9H-2.73Z", "symbolSize": 121, "symbolOffset": 9, "labelOffset": 20, "rowPadding": 6.5, "padding": 6, "fillColor": "rgba(234,234,242,0.8)", "strokeColor": "#d6d6de", "cornerRadius": 3, "labelFontSize": 14, "labelColor": "#262626", "symbolStrokeColor": "#666666", "symbolStrokeWidth": 0.6, "symbolOpacity": 1}},
    "detail": {"field": "t"}
   }
  },
  {
   "data": {"name": "quartiles"},
   "transform": [
    {"filter": "datum.p == 'av_RR'"},
    {"calculate": "indexof(['Rest','Motor task','Holistic tasks','Analytic tasks'], datum.t)", "as": "pos"},
    {"calculate": "datum.pos + (datum.g == 'holistic group' ? -datum.w : datum.w)", "as": "xs"}
   ],
   "mark": {"type": "rule", "color": "#4a4a4a", "strokeWidth": 1},
   "encoding": {
    "y": {"field": "v", "type": "quantitative"},
    "x": {"field": "xs", "type": "quantitative"},
    "x2": {"field": "pos"},
    "strokeDash": {"field": "k", "type": "nominal", "scale": {"domain": ["median", "quartile"], "range": [[4, 2.5], [1.5, 1.5]]}, "legend": null}
   }
  }
 ]
},
{
 "width": 495, "height": 241,
 "view": {"fill": "#EAEAF2", "stroke": null},
 "layer": [
  {
   "data": {"name": "violins"},
   "transform": [
    {"filter": "datum.p == 'SDNN'"},
    {"calculate": "indexof(['Rest','Motor task','Holistic tasks','Analytic tasks'], datum.t)", "as": "pos"},
    {"calculate": "datum.pos + (datum.g == 'holistic group' ? -datum.w : datum.w)", "as": "xs"}
   ],
   "mark": {"type": "area", "orient": "horizontal", "interpolate": "monotone", "stroke": "#505050", "strokeWidth": 0.8, "fillOpacity": 1},
   "encoding": {
    "y": {"field": "v", "type": "quantitative", "scale": {"domain": [-48.5, 261.6], "nice": false, "zero": false}, "axis": {"values": [0, 50, 100, 150, 200, 250], "format": "d", "title": "SDNN", "labelFontSize": 15, "titleFontSize": 15.3}},
    "x": {"field": "xs", "type": "quantitative", "stack": null, "scale": {"domain": [-0.5, 3.5], "nice": false, "zero": false}, "axis": null},
    "x2": {"field": "pos"},
    "color": {"field": "g", "type": "nominal", "scale": {"domain": ["holistic group", "analytic group"], "range": ["#76b27c", "#5a8fdc"]}, "legend": null},
    "detail": {"field": "t"}
   }
  },
  {
   "data": {"name": "quartiles"},
   "transform": [
    {"filter": "datum.p == 'SDNN'"},
    {"calculate": "indexof(['Rest','Motor task','Holistic tasks','Analytic tasks'], datum.t)", "as": "pos"},
    {"calculate": "datum.pos + (datum.g == 'holistic group' ? -datum.w : datum.w)", "as": "xs"}
   ],
   "mark": {"type": "rule", "color": "#4a4a4a", "strokeWidth": 1},
   "encoding": {
    "y": {"field": "v", "type": "quantitative"},
    "x": {"field": "xs", "type": "quantitative"},
    "x2": {"field": "pos"},
    "strokeDash": {"field": "k", "type": "nominal", "scale": {"domain": ["median", "quartile"], "range": [[4, 2.5], [1.5, 1.5]]}, "legend": null}
   }
  },
  {
   "data": {"name": "amps"},
   "transform": [{"filter": "datum.p == 'SDNN'"}],
   "mark": {"type": "text", "fontSize": 19, "fontWeight": "bold", "align": "center", "baseline": "alphabetic", "color": "#4d72c2"},
   "encoding": {
    "x": {"field": "x", "type": "quantitative"},
    "y": {"field": "y", "type": "quantitative"},
    "text": {"field": "label"}
   }
  }
 ]
},
{
 "width": 495, "height": 241,
 "view": {"fill": "#EAEAF2", "stroke": null},
 "layer": [
  {
   "data": {"name": "violins"},
   "transform": [
    {"filter": "datum.p == 'SampEn'"},
    {"calculate": "indexof(['Rest','Motor task','Holistic tasks','Analytic tasks'], datum.t)", "as": "pos"},
    {"calculate": "datum.pos + (datum.g == 'holistic group' ? -datum.w : datum.w)", "as": "xs"}
   ],
   "mark": {"type": "area", "orient": "horizontal", "interpolate": "monotone", "stroke": "#505050", "strokeWidth": 0.8, "fillOpacity": 1},
   "encoding": {
    "y": {"field": "v", "type": "quantitative", "scale": {"domain": [-0.358, 3.894], "nice": false, "zero": false}, "axis": {"values": [0, 1, 2, 3], "format": "d", "title": "SampEn", "labelFontSize": 15.5, "titleFontSize": 15.6}},
    "x": {"field": "xs", "type": "quantitative", "stack": null, "scale": {"domain": [-0.5, 3.5], "nice": false, "zero": false},
     "axis": {"values": [0, 1, 2, 3], "title": null, "grid": false, "labelFlush": false, "labelOverlap": false, "labelBound": false,
      "labelExpr": "datum.value == 0 ? 'Rest' : datum.value == 1 ? ['Motor', 'task'] : datum.value == 2 ? ['Holistic', 'tasks'] : ['Analytic', 'tasks']",
      "labelFontSize": {"condition": {"test": "datum.value == 0", "value": 25}, "value": 21},
      "labelFontWeight": "bold", "labelColor": "#000000", "labelPadding": 9, "labelLineHeight": 23.5, "labelBaseline": "top"}},
    "x2": {"field": "pos"},
    "color": {"field": "g", "type": "nominal", "scale": {"domain": ["holistic group", "analytic group"], "range": ["#76b27c", "#5a8fdc"]}, "legend": null},
    "detail": {"field": "t"}
   }
  },
  {
   "data": {"name": "quartiles"},
   "transform": [
    {"filter": "datum.p == 'SampEn'"},
    {"calculate": "indexof(['Rest','Motor task','Holistic tasks','Analytic tasks'], datum.t)", "as": "pos"},
    {"calculate": "datum.pos + (datum.g == 'holistic group' ? -datum.w : datum.w)", "as": "xs"}
   ],
   "mark": {"type": "rule", "color": "#4a4a4a", "strokeWidth": 1},
   "encoding": {
    "y": {"field": "v", "type": "quantitative"},
    "x": {"field": "xs", "type": "quantitative"},
    "x2": {"field": "pos"},
    "strokeDash": {"field": "k", "type": "nominal", "scale": {"domain": ["median", "quartile"], "range": [[4, 2.5], [1.5, 1.5]]}, "legend": null}
   }
  },
  {
   "data": {"name": "brackets"},
   "transform": [{"filter": "datum.test == 'Mann-Whitney'"}],
   "mark": {"type": "rule", "color": "#111111", "strokeWidth": 1.5},
   "encoding": {
    "x": {"field": "x", "type": "quantitative"},
    "x2": {"field": "x2"},
    "y": {"field": "y", "type": "quantitative"},
    "y2": {"field": "y2"}
   }
  },
  {
   "data": {"name": "brackets"},
   "transform": [{"filter": "datum.test == 'Wilcoxon'"}],
   "mark": {"type": "rule", "color": "#4a72c8", "strokeWidth": 1.2},
   "encoding": {
    "x": {"field": "x", "type": "quantitative"},
    "x2": {"field": "x2"},
    "y": {"field": "y", "type": "quantitative"},
    "y2": {"field": "y2"}
   }
  },
  {
   "data": {"name": "marks"},
   "mark": {"type": "text", "fontSize": 11, "align": "center", "baseline": "alphabetic", "color": "#111111"},
   "encoding": {
    "x": {"field": "x", "type": "quantitative"},
    "y": {"field": "y", "type": "quantitative"},
    "text": {"field": "label"}
   }
  },
  {
   "data": {"name": "amps"},
   "transform": [{"filter": "datum.p == 'SampEn' && datum.g == 'analytic group'"}],
   "mark": {"type": "text", "fontSize": 19, "fontWeight": "bold", "align": "center", "baseline": "alphabetic", "color": "#4d72c2"},
   "encoding": {
    "x": {"field": "x", "type": "quantitative"},
    "y": {"field": "y", "type": "quantitative"},
    "text": {"field": "label"}
   }
  },
  {
   "data": {"name": "amps"},
   "transform": [{"filter": "datum.p == 'SampEn' && datum.g == 'holistic group'"}],
   "mark": {"type": "text", "fontSize": 19, "fontWeight": "bold", "align": "center", "baseline": "alphabetic", "color": "#5fa96b"},
   "encoding": {
    "x": {"field": "x", "type": "quantitative"},
    "y": {"field": "y", "type": "quantitative"},
    "text": {"field": "label"}
   }
  }
 ]
},
{
 "width": 495, "height": 406,
 "view": {"stroke": null},
 "layer": [
  {
   "data": {"name": "caption"},
   "transform": [{"filter": "datum.part == 'body' && datum.line > 1"}],
   "mark": {"type": "text", "align": "left", "baseline": "middle", "fontSize": 18, "color": "#3a3a3a"},
   "encoding": {
    "x": {"datum": -1.2111, "type": "quantitative", "scale": {"domain": [-0.5, 3.5], "nice": false, "zero": false}, "axis": null},
    "y": {"field": "line", "type": "quantitative", "scale": {"domain": [-0.95, 14.55], "nice": false, "zero": false, "reverse": true}, "axis": null},
    "text": {"field": "text"}
   }
  },
  {
   "data": {"name": "caption"},
   "transform": [{"filter": "datum.part == 'body' && datum.line == 1"}],
   "mark": {"type": "text", "align": "left", "baseline": "middle", "fontSize": 18, "color": "#3a3a3a", "dx": 92},
   "encoding": {
    "x": {"datum": -1.2111, "type": "quantitative"},
    "y": {"field": "line", "type": "quantitative"},
    "text": {"field": "text"}
   }
  },
  {
   "data": {"name": "caption"},
   "transform": [{"filter": "datum.part == 'label'"}],
   "mark": {"type": "text", "align": "left", "baseline": "middle", "fontSize": 17, "fontWeight": "bold", "color": "#1e1e1e"},
   "encoding": {
    "x": {"datum": -1.2111, "type": "quantitative"},
    "y": {"field": "line", "type": "quantitative"},
    "text": {"field": "text"}
   }
  },
  {
   "data": {"values": [{}]},
   "mark": {"type": "rule", "color": "#555555", "strokeWidth": 1.5},
   "encoding": {
    "x": {"datum": -1.3485, "type": "quantitative"},
    "y": {"datum": -33.75, "type": "quantitative"},
    "y2": {"datum": 14.55}
   }
  },
  {
   "data": {"values": [{}]},
   "mark": {"type": "rule", "color": "#555555", "strokeWidth": 1.5},
   "encoding": {
    "x": {"datum": 3.9606, "type": "quantitative"},
    "y": {"datum": -33.75, "type": "quantitative"},
    "y2": {"datum": 14.55}
   }
  },
  {
   "data": {"values": [{}]},
   "mark": {"type": "rule", "color": "#555555", "strokeWidth": 1.5},
   "encoding": {
    "x": {"datum": -1.3485, "type": "quantitative"},
    "x2": {"datum": 3.9606},
    "y": {"datum": -33.75, "type": "quantitative"}
   }
  }
 ]
}
]
}
